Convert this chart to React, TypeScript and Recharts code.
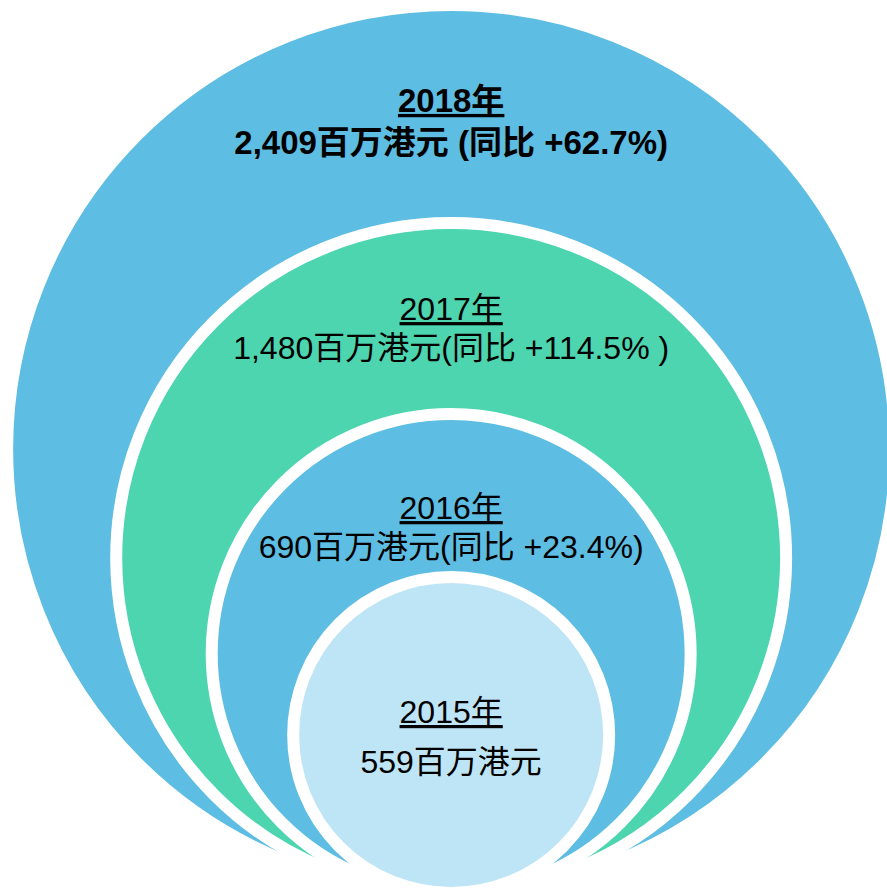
import { ScatterChart, Scatter, XAxis, YAxis } from "recharts";

const years = ["2018年", "2017年", "2016年", "2015年"];
const revenue = [2409, 1480, 690, 559]; // 百万港元
const yoyLabels = [" (同比 +62.7%)", "(同比 +114.5% )", "(同比 +23.4%)", ""];
// bubble radius relative to the 2018 circle (%)
const bubbleSize = [100, 75.1, 53.3, 34.7];

const COLORS = ["#5dbde2", "#4dd5b0", "#5dbde2", "#bee5f5"];
const BOLD = [true, false, false, false];
const FONT_SIZE = [33, 32, 32, 32];
const TITLE_OFFSET = [101, 91, 99, 140];
const LINE_GAP = [42, 39, 39, 50];

const WIDTH = 887;
const HEIGHT = 889;
const MARGIN = { top: 0, right: 0, bottom: 2, left: 0 };
const BASELINE = HEIGHT - MARGIN.bottom;
const FONT = "'Liberation Sans', Arial, 'Noto Sans CJK SC', sans-serif";

const rows = years.map((year, i) => ({
  x: 0,
  y: bubbleSize[i],
  year,
  revenue: revenue[i],
  yoy: yoyLabels[i],
  index: i,
}));

const renderBubble = (props: any) => {
  const { cx, cy, payload } = props;
  const i = payload.index;
  const r = BASELINE - cy;
  const top = cy - r;
  const weight = BOLD[i] ? 700 : 400;
  return (
    <g>
      <circle cx={cx} cy={cy} r={r + 6} fill={COLORS[i]} stroke="#ffffff" strokeWidth={12} />
      <text
        x={cx}
        y={top + TITLE_OFFSET[i]}
        textAnchor="middle"
        fontFamily={FONT}
        fontSize={FONT_SIZE[i]}
        fontWeight={weight}
        fill="#000"
        style={{ textDecoration: "underline", textDecorationThickness: "3px" } as any}
      >
        {payload.year}
      </text>
      <text
        x={cx}
        y={top + TITLE_OFFSET[i] + LINE_GAP[i]}
        textAnchor="middle"
        fontFamily={FONT}
        fontSize={FONT_SIZE[i]}
        fontWeight={weight}
        fill="#000"
        style={{ whiteSpace: "pre" }}
      >
        {`${payload.revenue.toLocaleString("en-US")}百万港元${payload.yoy}`}
      </text>
    </g>
  );
};

export default function App() {
  return (
    <div style={{ position: "absolute", left: 0, top: 0, background: "#fff" }}>
      <ScatterChart width={WIDTH} height={HEIGHT} margin={MARGIN}>
        <XAxis type="number" dataKey="x" domain={[-103, 99.5]} allowDataOverflow hide />
        <YAxis type="number" dataKey="y" domain={[0, 202.5]} allowDataOverflow hide />
        <Scatter data={rows} shape={renderBubble} isAnimationActive={false} />
      </ScatterChart>
    </div>
  );
}
